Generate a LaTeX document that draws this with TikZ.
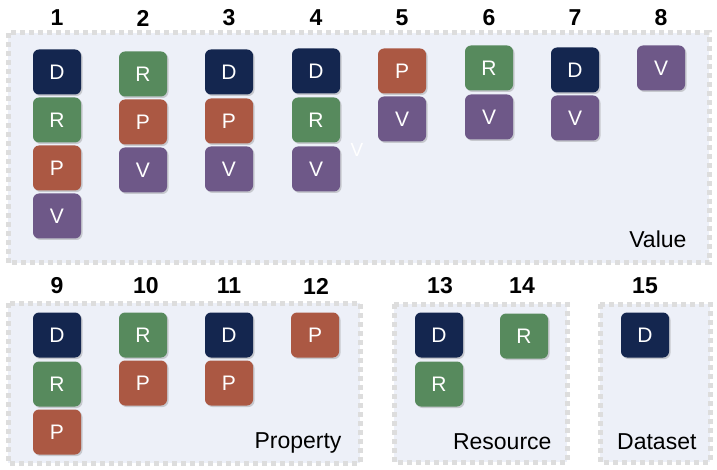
\documentclass[tikz,border=0pt]{standalone}
\usepackage{fontspec}
\setmainfont{Liberation Sans}
\usetikzlibrary{shadows}
\definecolor{cD}{HTML}{14264F}
\definecolor{cR}{HTML}{578A5D}
\definecolor{cP}{HTML}{AB5843}
\definecolor{cV}{HTML}{6E5888}
\definecolor{boxfill}{HTML}{EDF0F8}
\definecolor{boxline}{HTML}{DDDDDD}
\begin{document}
\begin{tikzpicture}[x=1pt,y=-1pt,
  tile/.style={rectangle, rounded corners=6pt, minimum width=48pt, minimum height=45pt,
    inner sep=0pt, text=white, font=\fontsize{21}{21}\selectfont,
    drop shadow={opacity=0.35, shadow xshift=1.5pt, shadow yshift=-1.5pt}},
  tD/.style={tile, fill=cD}, tR/.style={tile, fill=cR},
  tP/.style={tile, fill=cP}, tV/.style={tile, fill=cV},
  group/.style={fill=boxfill, draw=boxline, line width=5pt, dash pattern=on 5pt off 4pt},
  num/.style={font=\bfseries\fontsize{23}{23}\selectfont},
  lbl/.style={anchor=east, font=\fontsize{23}{23}\selectfont}]
\useasboundingbox (0,0) rectangle (717,470);
% groups
\path[group] (8,33) rectangle (709,263);
\path[group] (8,303) rectangle (360,463);
\path[group] (394,304) rectangle (567,462);
\path[group] (600,304) rectangle (710,462);
% numbers
\foreach \n/\x in {1/57,2/143,3/229,4/316,5/402,6/489,7/575,8/661}
  \node[num] (n\n) at (\x,18) {\n};
\foreach \n/\x in {9/57,10/146,11/229,12/316,13/440,14/522,15/645}
  \node[num] (n\n) at (\x,286) {\n};
% column 1
\node[tD] (a1) at (57,72) {D};
\node[tR] (b1) at (57,120) {R};
\node[tP] (c1) at (57,168) {P};
\node[tV] (d1) at (57,216) {V};
% column 2
\node[tR] (a2) at (143,74) {R};
\node[tP] (b2) at (143,122) {P};
\node[tV] (c2) at (143,170) {V};
% column 3
\node[tD] (a3) at (229,72) {D};
\node[tP] (b3) at (229,121) {P};
\node[tV] (c3) at (229,169) {V};
% column 4
\node[tD] (a4) at (316,71) {D};
\node[tR] (b4) at (316,120) {R};
\node[tV] (c4) at (316,169) {V};
\node[text=white, font=\fontsize{19}{19}\selectfont] (s4) at (357,150) {V};
% column 5
\node[tP] (a5) at (402,71) {P};
\node[tV] (b5) at (402,119) {V};
% column 6
\node[tR] (a6) at (489,68) {R};
\node[tV] (b6) at (489,117) {V};
% column 7
\node[tD] (a7) at (575,70) {D};
\node[tV] (b7) at (575,118) {V};
% column 8
\node[tV] (a8) at (661,68) {V};
% row 2
\node[tD] (a9) at (57,335) {D};
\node[tR] (b9) at (57,384) {R};
\node[tP] (c9) at (57,432) {P};
\node[tR] (a10) at (143,335) {R};
\node[tP] (b10) at (143,383) {P};
\node[tD] (a11) at (229,335) {D};
\node[tP] (b11) at (229,383) {P};
\node[tP] (a12) at (315,335) {P};
\node[tD] (a13) at (439,335) {D};
\node[tR] (b13) at (439,384) {R};
\node[tR] (a14) at (524,336) {R};
\node[tD] (a15) at (645,335) {D};
% labels
\node[lbl] (lv) at (690,239) {Value};
\node[lbl] (lp) at (345,443) {Property};
\node[lbl] (lr) at (555,442) {Resource};
\node[lbl] (ld) at (700,442) {Dataset};
\end{tikzpicture}
\end{document}
